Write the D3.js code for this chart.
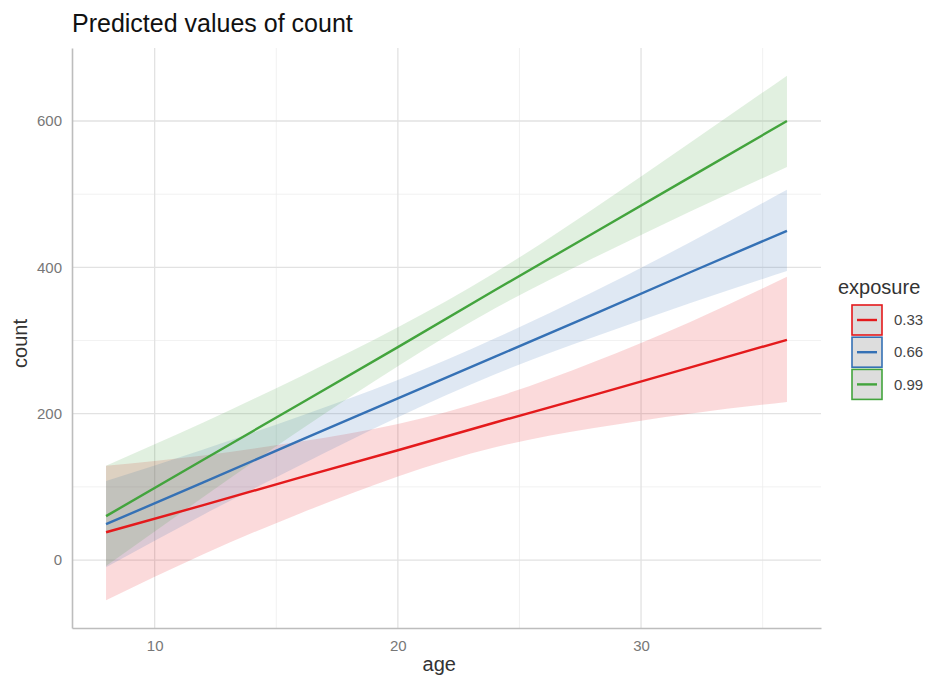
<!DOCTYPE html>
<html>
<head>
<meta charset="utf-8">
<script src="https://cdn.jsdelivr.net/npm/d3@7"></script>
<style>
  body { margin: 0; background: #fff; }
  svg { font-family: "Liberation Sans", Arial, sans-serif; }
</style>
</head>
<body>
<div id="chart"></div>
<script>
var ages = [8, 12, 16, 20, 24, 28, 32, 36];
var groups = ["0.33", "0.66", "0.99"];
var colors = ["#e41a1c", "#3571b5", "#43a43d"];

// predicted count per exposure level
var pred033 = [38, 75, 113, 150, 188, 225, 263, 301];
var low033  = [-55, 8, 64, 114, 154, 180, 200, 216];
var high033 = [129, 143, 162, 186, 222, 270, 325, 387];

var pred066 = [49, 106, 164, 221, 278, 335, 393, 450];
var low066  = [-10, 62, 130, 195, 254, 304, 351, 395];
var high066 = [108, 151, 197, 246, 303, 366, 434, 506];

var pred099 = [60, 137, 214, 291, 369, 446, 523, 600];
var low099  = [-8, 86, 178, 265, 344, 412, 476, 537];
var high099 = [129, 188, 251, 318, 393, 479, 570, 662];

var xTicks = [10, 20, 30];
var xMinor = [15, 25, 35];
var yTicks = [0, 200, 400, 600];
var yMinor = [100, 300, 500];

var series = [
  { key: groups[0], color: colors[0], pred: pred033, low: low033, high: high033 },
  { key: groups[1], color: colors[1], pred: pred066, low: low066, high: high066 },
  { key: groups[2], color: colors[2], pred: pred099, low: low099, high: high099 }
];

var W = 939, H = 679;
var svg = d3.select("#chart").append("svg").attr("width", W).attr("height", H);

var x = d3.scaleLinear().domain([6.6, 37.4]).range([72, 821]);
var y = d3.scaleLinear().domain([-92.9, 699.8]).range([628, 48]);

// --- grid ---
var grid = svg.append("g");
grid.selectAll(".xminor").data(xMinor).enter().append("line")
  .attr("x1", d => x(d)).attr("x2", d => x(d)).attr("y1", 48).attr("y2", 628)
  .attr("stroke", "#ededed").attr("stroke-width", 0.8);
grid.selectAll(".yminor").data(yMinor).enter().append("line")
  .attr("x1", 72).attr("x2", 821).attr("y1", d => y(d)).attr("y2", d => y(d))
  .attr("stroke", "#ededed").attr("stroke-width", 0.8);
grid.selectAll(".xmajor").data(xTicks).enter().append("line")
  .attr("x1", d => x(d)).attr("x2", d => x(d)).attr("y1", 48).attr("y2", 628)
  .attr("stroke", "#e2e2e2").attr("stroke-width", 1.3);
grid.selectAll(".ymajor").data(yTicks).enter().append("line")
  .attr("x1", 72).attr("x2", 821).attr("y1", d => y(d)).attr("y2", d => y(d))
  .attr("stroke", "#e2e2e2").attr("stroke-width", 1.3);

// --- ribbons then lines ---
var area = d3.area()
  .curve(d3.curveNatural)
  .x((d, i) => x(ages[i]))
  .y0(d => y(d[0]))
  .y1(d => y(d[1]));
var line = d3.line()
  .x((d, i) => x(ages[i]))
  .y(d => y(d));

series.forEach(function (s) {
  svg.append("path")
    .datum(s.low.map((v, i) => [v, s.high[i]]))
    .attr("d", area)
    .attr("fill", s.color)
    .attr("fill-opacity", 0.16);
});
series.forEach(function (s) {
  svg.append("path")
    .datum(s.pred)
    .attr("d", line)
    .attr("fill", "none")
    .attr("stroke", s.color)
    .attr("stroke-width", 2.4);
});

// --- axes ---
var xAxis = svg.append("g")
  .attr("transform", "translate(0,628)")
  .call(d3.axisBottom(x).tickValues(xTicks).tickSize(0).tickPadding(12));
var yAxis = svg.append("g")
  .attr("transform", "translate(72,0)")
  .call(d3.axisLeft(y).tickValues(yTicks).tickSize(0).tickPadding(10));
[xAxis, yAxis].forEach(function (a) {
  a.select(".domain").attr("stroke", "#bdbdbd").attr("stroke-width", 1.6);
  a.selectAll("text").attr("fill", "#777").style("font-size", "15px")
    .style("font-family", "'Liberation Sans', Arial, sans-serif");
});

// axis titles
svg.append("text")
  .attr("x", x(21.7)).attr("y", 671)
  .attr("text-anchor", "middle")
  .attr("fill", "#333").style("font-size", "20px")
  .text("age");
svg.append("text")
  .attr("transform", "translate(27," + y(296) + ") rotate(-90)")
  .attr("text-anchor", "middle")
  .attr("fill", "#333").style("font-size", "20px")
  .text("count");

// title
svg.append("text")
  .attr("x", 72).attr("y", 32)
  .attr("fill", "#111").style("font-size", "25px")
  .text("Predicted values of count");

// --- legend ---
var legend = svg.append("g").attr("transform", "translate(838,0)");
legend.append("text")
  .attr("x", 0).attr("y", 294)
  .attr("fill", "#333").style("font-size", "20px")
  .text("exposure");
var items = legend.selectAll(".item").data(series).enter().append("g")
  .attr("transform", (d, i) => "translate(14," + (305 + i * 32.2) + ")");
items.append("rect")
  .attr("width", 30).attr("height", 30)
  .attr("fill", "#dddddd")
  .attr("stroke", d => d.color).attr("stroke-width", 1.6);
items.append("line")
  .attr("x1", 5).attr("x2", 25).attr("y1", 15).attr("y2", 15)
  .attr("stroke", d => d.color).attr("stroke-width", 2.4);
items.append("text")
  .attr("x", 42).attr("y", 15).attr("dy", "0.35em")
  .attr("fill", "#444").style("font-size", "15px")
  .text(d => d.key);
</script>
</body>
</html>
